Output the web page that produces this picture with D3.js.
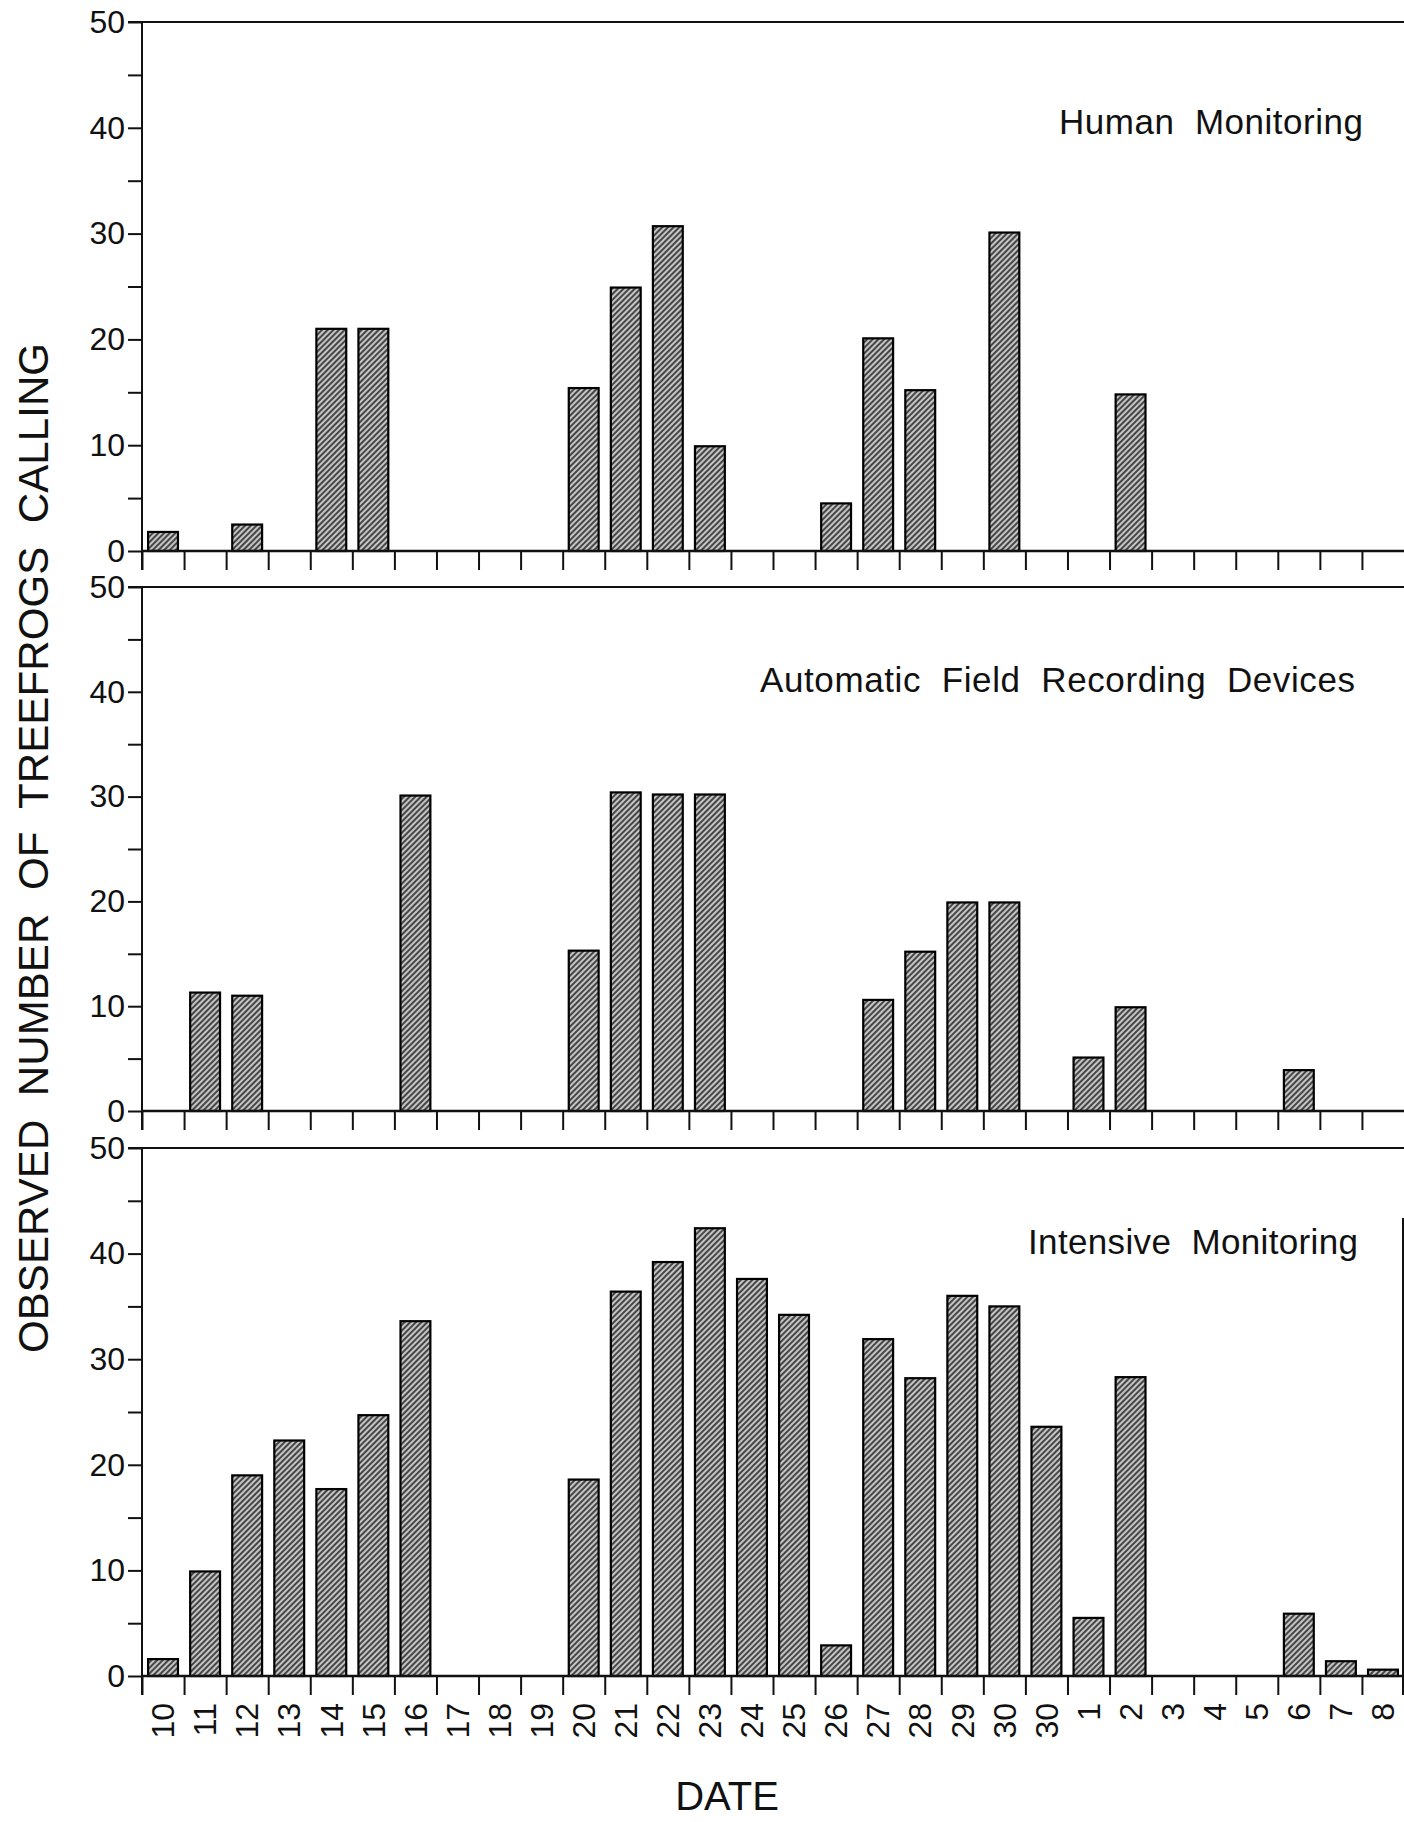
<!DOCTYPE html>
<html>
<head>
<meta charset="utf-8">
<script src="https://cdn.jsdelivr.net/npm/d3@7"></script>
<style>
  html, body { margin: 0; padding: 0; background: #fff; }
  svg { display: block; font-family: "Liberation Sans", Arial, Helvetica, sans-serif; }
</style>
</head>
<body>
<div id="chart"></div>
<script>
// dates along the x axis (the second "30" is as printed)
const dates = ["10", "11", "12", "13", "14", "15", "16", "17", "18", "19", "20",
  "21", "22", "23", "24", "25", "26", "27", "28", "29", "30", "30",
  "1", "2", "3", "4", "5", "6", "7", "8"];

const humanMonitoring = [1.8, 0, 2.5, 0, 21, 21, 0, 0, 0, 0, 15.4, 24.9, 30.7, 9.9,
  0, 0, 4.5, 20.1, 15.2, 0, 30.1, 0, 0, 14.8, 0, 0, 0, 0, 0, 0];

const automaticDevices = [0, 11.3, 11.0, 0, 0, 0, 30.1, 0, 0, 0, 15.3, 30.4, 30.2, 30.2,
  0, 0, 0, 10.6, 15.2, 19.9, 19.9, 0, 5.1, 9.9, 0, 0, 0, 3.9, 0, 0];

const intensiveMonitoring = [1.6, 9.9, 19.0, 22.3, 17.7, 24.7, 33.6, 0, 0, 0, 18.6, 36.4,
  39.2, 42.4, 37.6, 34.2, 2.9, 31.9, 28.2, 36.0, 35.0, 23.6, 5.5, 28.3, 0, 0, 0, 5.9, 1.4, 0.6];

const panelTitles = ["Human  Monitoring", "Automatic  Field  Recording  Devices", "Intensive  Monitoring"];
const yTicks = [0, 5, 10, 15, 20, 25, 30, 35, 40, 45, 50];

const W = 1404, H = 1822;
const x0 = 142, x1 = 1404;
const panels = [
  { top: 22, bottom: 551, values: humanMonitoring, title: panelTitles[0], tx: 1059, tw: 304, ty: 134 },
  { top: 587, bottom: 1111, values: automaticDevices, title: panelTitles[1], tx: 760, tw: 595, ty: 692 },
  { top: 1148, bottom: 1676, values: intensiveMonitoring, title: panelTitles[2], tx: 1028, tw: 330, ty: 1254 }
];

const svg = d3.select("#chart").append("svg")
  .attr("width", W).attr("height", H);

const defs = svg.append("defs");
const pat = defs.append("pattern")
  .attr("id", "hatch")
  .attr("patternUnits", "userSpaceOnUse")
  .attr("width", 4).attr("height", 4)
  .attr("patternTransform", "rotate(45)");
pat.append("rect").attr("width", 4).attr("height", 4).attr("fill", "#c4c4c4");
pat.append("line").attr("x1", 1).attr("y1", 0).attr("x2", 1).attr("y2", 4)
  .attr("stroke", "#1c1c1c").attr("stroke-width", 1.5);

const x = d3.scaleBand()
  .domain(d3.range(dates.length))
  .range([x0, x1])
  .paddingInner(0.29)
  .paddingOuter(0.145);

// boundaries between dates carry the ticks
const xEdge = d3.scaleLinear().domain([0, dates.length]).range([x0, x1]);

panels.forEach((p, pi) => {
  const y = d3.scaleLinear().domain([0, 50]).range([p.bottom, p.top]);
  const g = svg.append("g");

  // top frame line
  g.append("line")
    .attr("x1", x0 - 14).attr("x2", x1)
    .attr("y1", y(50)).attr("y2", y(50))
    .attr("stroke", "#111").attr("stroke-width", 2);

  g.selectAll("rect.bar")
    .data(p.values.map((v, i) => ({ i, v })).filter(d => d.v > 0))
    .enter().append("rect")
    .attr("class", "bar")
    .attr("x", d => x(d.i))
    .attr("y", d => y(d.v))
    .attr("width", x.bandwidth())
    .attr("height", d => y(0) - y(d.v))
    .attr("fill", "url(#hatch)")
    .attr("stroke", "#000")
    .attr("stroke-width", 2.2);

  // y axis
  g.append("g")
    .attr("transform", `translate(${x0},0)`)
    .call(d3.axisLeft(y).tickValues(yTicks).tickSize(14).tickPadding(3)
      .tickFormat(d => d % 10 === 0 ? d : ""))
    .call(a => a.select(".domain").remove())
    .call(a => a.selectAll("line").attr("stroke", "#111").attr("stroke-width", 2))
    .call(a => a.selectAll("text").attr("font-size", 32).attr("fill", "#111"));

  g.append("line")
    .attr("x1", x0).attr("x2", x0)
    .attr("y1", y(50)).attr("y2", y(0) + 19)
    .attr("stroke", "#111").attr("stroke-width", 2);

  // x axis
  g.append("g")
    .attr("transform", `translate(0,${y(0)})`)
    .call(d3.axisBottom(xEdge).tickValues(d3.range(dates.length)).tickSize(19).tickFormat(""))
    .call(a => a.select(".domain").remove())
    .call(a => a.selectAll("line").attr("stroke", "#111").attr("stroke-width", 2));

  g.append("line")
    .attr("x1", x0).attr("x2", x1)
    .attr("y1", y(0)).attr("y2", y(0))
    .attr("stroke", "#111").attr("stroke-width", 2.5);

  g.append("text")
    .attr("x", p.tx).attr("y", p.ty)
    .attr("font-size", 35)
    .attr("textLength", p.tw)
    .attr("lengthAdjust", "spacing")
    .attr("fill", "#111")
    .style("white-space", "pre")
    .text(p.title);

  if (pi === panels.length - 1) {
    g.append("line")
      .attr("x1", x1 - 1).attr("x2", x1 - 1)
      .attr("y1", 1218).attr("y2", y(0) + 19)
      .attr("stroke", "#111").attr("stroke-width", 2);

    g.selectAll("text.date")
      .data(dates)
      .enter().append("text")
      .attr("class", "date")
      .attr("transform", (d, i) => `translate(${x(i) + x.bandwidth() / 2},${y(0) + 27}) rotate(-90)`)
      .attr("text-anchor", "end")
      .attr("dy", "0.35em")
      .attr("font-size", 32)
      .attr("fill", "#111")
      .text(d => d);
  }
});

svg.append("text")
  .attr("transform", "translate(48,848) rotate(-90)")
  .attr("text-anchor", "middle")
  .attr("font-size", 42)
  .attr("textLength", 1010)
  .attr("lengthAdjust", "spacing")
  .attr("fill", "#111")
  .style("white-space", "pre")
  .text("OBSERVED  NUMBER  OF  TREEFROGS  CALLING");

svg.append("text")
  .attr("x", 727).attr("y", 1810)
  .attr("text-anchor", "middle")
  .attr("font-size", 40)
  .attr("fill", "#111")
  .text("DATE");
</script>
</body>
</html>
